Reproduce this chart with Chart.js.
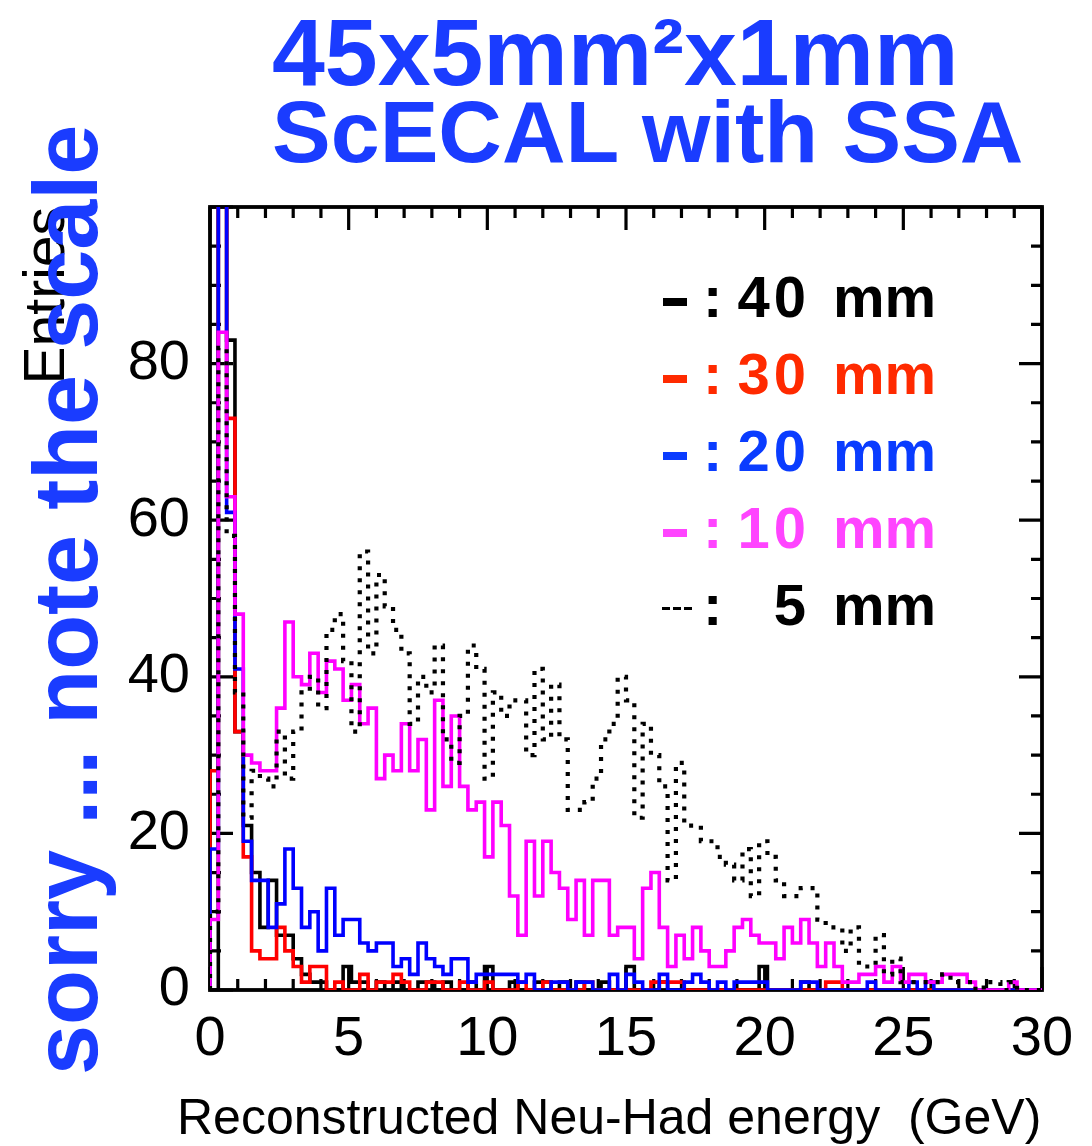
<!DOCTYPE html>
<html>
<head>
<meta charset="utf-8">
<script src="https://cdn.jsdelivr.net/npm/chart.js@4.4.0/dist/chart.umd.min.js"></script>
<style>
  body { margin: 0; background: #fff; }
  #wrap { position: relative; width: 1092px; height: 1146px; }
  .lbl { position: absolute; line-height: 0; white-space: nowrap; font-family: "Liberation Sans", Arial, Helvetica, sans-serif; }
  .swatch { position: absolute; }
</style>
</head>
<body>
<div id="wrap">
  <canvas id="histo"></canvas>
</div>
<script>
// 100 bins of 0.3 GeV between 0 and 30 GeV
const xMin = 0, xMax = 30, binWidth = 0.3;

// entries per bin, one array per cell size
const h40mm = [
  0, 110, 83, 33, 21, 15, 8, 14, 7, 7,
  4, 2, 1, 1, 0, 0, 3, 1, 1, 0,
  1, 0, 1, 0, 0, 1, 1, 0, 1, 0,
  0, 1, 0, 3, 0, 0, 1, 0, 0, 1,
  1, 0, 1, 0, 1, 0, 0, 1, 0, 0,
  3, 0, 0, 0, 1, 0, 0, 0, 0, 0,
  0, 0, 0, 0, 0, 0, 3, 0, 0, 0,
  0, 1, 0, 0, 0, 0, 0, 0, 0, 0,
  0, 0, 0, 0, 0, 0, 0, 0, 0, 0,
  0, 0, 0, 0, 0, 0, 0, 0, 0, 0
];
const h30mm = [
  28, 110, 73, 33, 17, 5, 4, 4, 8, 5,
  3, 1, 3, 3, 0, 1, 0, 0, 2, 0,
  1, 1, 2, 1, 0, 0, 1, 1, 0, 0,
  1, 0, 0, 1, 0, 0, 0, 1, 0, 0,
  1, 0, 0, 0, 0, 1, 0, 0, 0, 0,
  0, 0, 0, 1, 1, 1, 1, 0, 0, 0,
  0, 0, 0, 0, 0, 0, 0, 0, 0, 0,
  0, 0, 0, 0, 1, 1, 0, 0, 0, 0,
  0, 0, 0, 0, 0, 0, 0, 0, 0, 0,
  0, 0, 0, 0, 0, 0, 0, 0, 0, 0
];
const h20mm = [
  18, 150, 61, 41, 19, 14, 14, 8, 11, 18,
  13, 8, 10, 5, 13, 7, 9, 9, 6, 5,
  6, 6, 3, 4, 2, 6, 4, 3, 2, 4,
  4, 1, 2, 2, 2, 2, 2, 1, 2, 0,
  0, 1, 1, 0, 1, 1, 0, 0, 2, 0,
  2, 1, 0, 0, 2, 0, 0, 1, 2, 1,
  0, 1, 0, 1, 1, 1, 1, 0, 0, 0,
  0, 1, 1, 0, 0, 0, 0, 0, 0, 1,
  0, 0, 0, 0, 1, 0, 1, 0, 0, 0,
  0, 0, 0, 0, 0, 0, 0, 0, 0, 0
];
const h10mm = [
  9, 84, 63, 48, 30, 29, 28, 28, 36, 47,
  40, 39, 43, 38, 42, 41, 37, 39, 34, 36,
  27, 30, 28, 34, 28, 32, 23, 37, 26, 35,
  26, 23, 24, 17, 24, 21, 12, 7, 19, 12,
  19, 15, 13, 9, 14, 7, 14, 14, 7, 8,
  8, 4, 13, 15, 8, 3, 7, 4, 8, 5,
  3, 3, 5, 8, 9, 7, 6, 6, 4, 8,
  6, 9, 6, 3, 6, 3, 1, 1, 2, 2,
  3, 1, 3, 1, 2, 2, 1, 1, 2, 2,
  2, 1, 0, 0, 0, 0, 1, 0, 0, 0
];
const h5mm = [
  10, 82, 58, 38, 22, 28, 27, 26, 33, 27,
  33, 38, 40, 36, 46, 48, 42, 33, 56, 43,
  53, 49, 46, 43, 34, 40, 38, 44, 32, 29,
  35, 44, 41, 27, 38, 35, 37, 37, 30, 41,
  32, 39, 32, 23, 23, 24, 27, 32, 34, 40,
  37, 22, 34, 30, 26, 14, 29, 21, 21, 19,
  19, 17, 16, 14, 18, 12, 19, 17, 14, 12,
  12, 13, 13, 9, 8, 8, 5, 8, 3, 3,
  7, 2, 4, 1, 1, 1, 1, 1, 2, 1,
  1, 1, 0, 1, 1, 0, 1, 0, 0, 0
];

const legendRows = ['40', '30', '20', '10', '5'];
const legendColors = ['#000000', '#ff2a00', '#0a3cff', '#ff44ff', '#000000'];

const FONT = '"Liberation Sans", Arial, Helvetica, sans-serif';
const BLUE = '#1a3cff';

// histogram outline: lower bin edges, closed down to zero at both ends
function histPoints(values) {
  const pts = [{ x: xMin, y: 0 }];
  values.forEach((v, i) => pts.push({ x: xMin + i * binWidth, y: v }));
  pts.push({ x: xMax, y: 0 });
  return pts;
}

function histSet(values, color, order, dash) {
  return {
    data: histPoints(values),
    borderColor: color,
    borderWidth: dash ? 4.2 : 3.6,
    borderDash: dash || [],
    borderCapStyle: 'butt',
    borderJoinStyle: 'miter',
    stepped: true,
    pointRadius: 0,
    fill: false,
    order: order
  };
}

// frame with inward ticks on all four sides
const frameTicks = {
  id: 'frameTicks',
  beforeDatasetsDraw(chart) {
    const { ctx, chartArea: a, scales: { x, y } } = chart;
    ctx.save();
    ctx.strokeStyle = '#000';
    ctx.lineWidth = 3.2;
    ctx.beginPath();
    for (let v = xMin; v <= xMax; v += 1) {
      const px = x.getPixelForValue(v);
      const len = v % 5 === 0 ? 23 : 11;
      ctx.moveTo(px, a.bottom); ctx.lineTo(px, a.bottom - len);
      ctx.moveTo(px, a.top); ctx.lineTo(px, a.top + len);
    }
    for (let v = 0; v <= 100; v += 5) {
      const py = y.getPixelForValue(v);
      const len = v % 20 === 0 ? 23 : 11;
      ctx.moveTo(a.left, py); ctx.lineTo(a.left + len, py);
      ctx.moveTo(a.right, py); ctx.lineTo(a.right - len, py);
    }
    ctx.stroke();
    ctx.lineWidth = 3.8;
    ctx.strokeRect(a.left, a.top, a.right - a.left, a.bottom - a.top);
    ctx.restore();
  }
};

new Chart(document.getElementById('histo'), {
  type: 'line',
  data: {
    datasets: [
      histSet(h5mm, '#000000', 0, [4, 8]),
      histSet(h10mm, '#ff00ff', 1),
      histSet(h20mm, '#0000ff', 2),
      histSet(h30mm, '#ff0000', 3),
      histSet(h40mm, '#000000', 4)
    ]
  },
  options: {
    responsive: true,
    maintainAspectRatio: false,
    animation: false,
    layout: { padding: { top: 207, right: 50, left: 0, bottom: 0 } },
    plugins: { legend: { display: false }, tooltip: { enabled: false } },
    scales: {
      x: {
        type: 'linear', min: xMin, max: xMax,
        grid: { display: false, drawTicks: false },
        border: { display: false },
        ticks: { stepSize: 5, maxRotation: 0, autoSkip: false, padding: 16, color: '#000', font: { family: FONT, size: 56 } },
        afterFit(s) { s.height = 156; }
      },
      y: {
        min: 0, max: 100,
        grid: { display: false, drawTicks: false },
        border: { display: false },
        ticks: { stepSize: 20, padding: 20, color: '#000', font: { family: FONT, size: 56 }, callback: v => v < 100 ? v : null },
        title: { display: true, text: 'Entries', align: 'end', color: '#000', padding: { top: 14, bottom: 0 }, font: { family: FONT, size: 57 } },
        afterFit(s) { s.width = 210; }
      }
    }
  },
  plugins: [frameTicks]
});

// text placed by its baseline
const wrap = document.getElementById('wrap');
function addLabel(text, x, base, size, color, weight) {
  const d = document.createElement('div');
  d.className = 'lbl';
  d.textContent = text;
  d.style.left = x + 'px';
  d.style.top = (base - 0.3465 * size) + 'px';
  d.style.fontSize = size + 'px';
  d.style.color = color;
  d.style.fontWeight = weight || 'normal';
  wrap.appendChild(d);
  return d;
}

addLabel('45x5mm²x1mm', 272, 85, 95, BLUE, 'bold');
addLabel('ScECAL with SSA', 272, 162, 88, BLUE, 'bold');

// x-axis title, wider than the plot frame
const xTitle = addLabel('Reconstructed Neu-Had energy  (GeV)', 177, 1134, 50, '#000');
xTitle.style.whiteSpace = 'pre';

const note = addLabel('sorry ... note the scale', 97 - 0.3465 * 90, 0, 90, BLUE, 'bold');
note.style.top = '1075px';
note.style.transformOrigin = '0 0';
note.style.transform = 'rotate(-90deg)';

legendRows.forEach((mm, i) => {
  const base = 317 + i * 77;
  const color = legendColors[i];
  const sw = document.createElement('div');
  sw.className = 'swatch';
  if (i < 4) {
    sw.style.cssText += `left:663px;top:${base - 19}px;width:24px;height:8px;background:${color};`;
  } else {
    sw.style.cssText += `left:662px;top:${base - 18}px;width:30px;height:3px;background:repeating-linear-gradient(90deg,#000 0 8px,transparent 8px 11px);`;
  }
  wrap.appendChild(sw);
  addLabel(':', 703, base, 58, color, 'bold');
  const num = addLabel(mm, 692, base, 58, color, 'bold');
  num.style.width = '118px';
  num.style.textAlign = 'right';
  num.style.letterSpacing = '4px';
  addLabel('mm', 833, base, 58, color, 'bold');
});
</script>
</body>
</html>
